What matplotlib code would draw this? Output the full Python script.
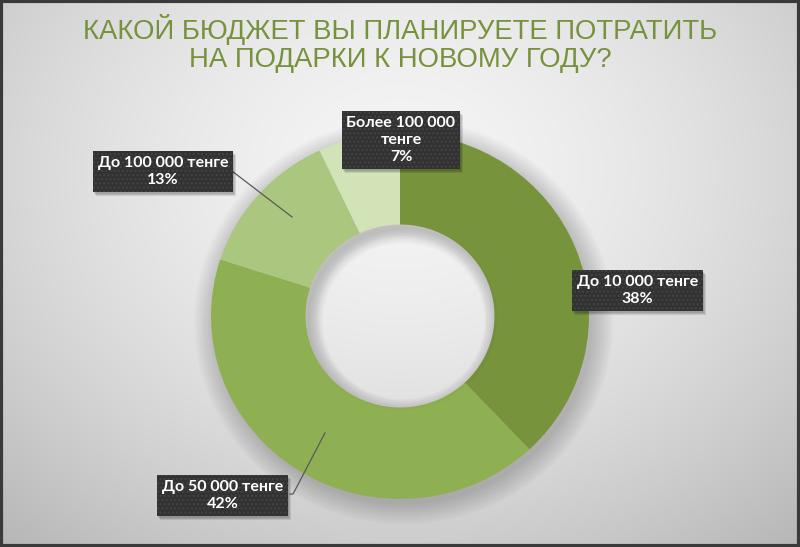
import numpy as np
import matplotlib
matplotlib.use("Agg")
import matplotlib.pyplot as plt
from matplotlib.patches import Annulus, Ellipse, Rectangle
from matplotlib.transforms import IdentityTransform

title = "КАКОЙ БЮДЖЕТ ВЫ ПЛАНИРУЕТЕ ПОТРАТИТЬ\nНА ПОДАРКИ К НОВОМУ ГОДУ?"
categories = ["До 10 000 тенге", "До 50 000 тенге", "До 100 000 тенге", "Более 100 000\nтенге"]
shares = [38, 42, 13, 7]
colors = ["#77933c", "#8fb052", "#abc77f", "#d3e3b8"]

# label box centres and leader line anchors (axes data units, radius = 1)
label_pos = [(1.257, 0.139), (-0.939, -0.981), (-1.254, 0.790), (0.005, 0.962)]
leaders = [None,
           [(-0.582, -0.973), (-0.566, -0.973), (-0.397, -0.639)],
           [(-0.889, 0.792), (-0.571, 0.541)],
           None]

W, H = 800, 547
fig = plt.figure(figsize=(W / 100, H / 100), dpi=100)

# grey radial background
bg = fig.add_axes([0, 0, 1, 1])
yy, xx = np.mgrid[0:H, 0:W]
d = np.sqrt(((xx - 400) / 520) ** 2 + ((yy - 170) / 420) ** 2)
grey = np.clip(0.96 - 0.19 * d ** 1.6, 0, 1)
bg.imshow(np.dstack([grey, grey, grey]), extent=[0, W, H, 0], aspect="auto")
bg.set_xlim(0, W)
bg.set_ylim(H, 0)
bg.axis("off")
bg.add_patch(Rectangle((1, 1), W - 2, H - 2.5, fill=False, ec="#3a3a3a", lw=3))

fig.text(0.5, 0.975, title, ha="center", va="top", color="#76923c", fontsize=19.8,
         family=["Liberation Sans", "DejaVu Sans"], linespacing=1.1)

ax = fig.add_axes([211 / W, 48 / H, 378 / W, 366 / H])

# soft drop shadow under the ring
for k in range(10):
    ax.add_patch(Annulus((0.02, -0.03), 1.0 + 0.012 * k, 0.5 + 0.02 * k,
                         fc="#000000", ec="none", alpha=0.02, zorder=0, clip_on=False))

wedges, _ = ax.pie(shares, colors=colors, startangle=90, counterclock=False,
                   radius=1, wedgeprops=dict(width=0.5, edgecolor="none"))
for w in wedges:
    w.set_zorder(2)

# faint inner shadow inside the hole
for k in range(6):
    r = 0.5 - 0.01 * k
    ax.add_patch(Ellipse((0.01, -0.01), 2 * r, 2 * r, fc="none", ec="#000000",
                         lw=1.5, alpha=0.016, zorder=3))

ax.set_xlim(-1, 1)
ax.set_ylim(-1, 1)
ax.set_aspect("auto")
ax.set_autoscale_on(False)
ax.axis("off")

labels = []
for cat, val, pos, lead in zip(categories, shares, label_pos, leaders):
    if lead is not None:
        xs, ys = zip(*lead)
        ax.plot(xs, ys, color="#595959", lw=0.9, zorder=4)
    t = ax.text(pos[0], pos[1], f"{cat}\n{val}%", ha="center", va="center",
                fontsize=11.5, family="Lato", weight="bold", color="white", linespacing=1.3,
                bbox=dict(boxstyle="square,pad=0.3", fc="#323232", ec="#444444", lw=0,
                          hatch="...."),
                zorder=6)
    labels.append(t)

# box shadows, placed from the drawn label boxes (kept under the labels)
fig.canvas.draw()
for t in labels:
    bb = t.get_bbox_patch().get_window_extent()
    for k in range(3):
        ax.add_patch(Rectangle((bb.x0 + 1 + k, bb.y0 - 2 - k), bb.width, bb.height,
                               transform=IdentityTransform(), fc="black", ec="none",
                               alpha=0.1, zorder=5, clip_on=False))

fig.savefig("out.png", dpi=100)
